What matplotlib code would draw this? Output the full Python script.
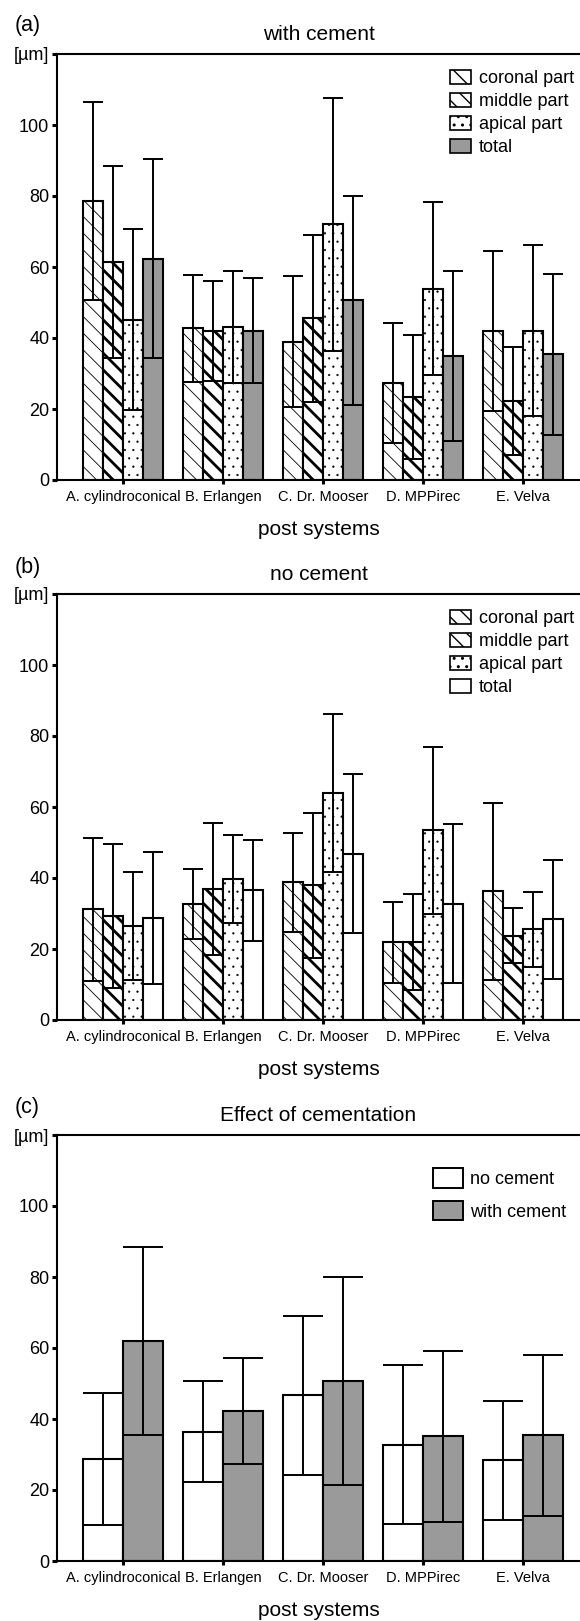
import numpy as np
import matplotlib
matplotlib.use('Agg')
import matplotlib.pyplot as plt
from matplotlib.patches import Patch

plt.rcParams['font.family'] = ['Liberation Sans', 'DejaVu Sans']

systems = ['A. cylindroconical', 'B. Erlangen', 'C. Dr. Mooser', 'D. MPPirec', 'E. Velva']
parts = ['coronal part', 'middle part', 'apical part', 'total']

# (a) with cement: mean and SD
cem_coronal = [78.6, 42.7, 39.0, 27.3, 41.9]
cem_coronal_sd = [28.0, 15.0, 18.5, 16.9, 22.6]
cem_middle = [61.5, 42.0, 45.6, 23.3, 22.3]
cem_middle_sd = [27.0, 14.0, 23.5, 17.5, 15.2]
cem_apical = [45.2, 43.2, 72.0, 53.9, 42.1]
cem_apical_sd = [25.5, 15.8, 35.6, 24.4, 24.0]
cem_total = [62.3, 42.1, 50.6, 35.0, 35.4]
cem_total_sd = [28.0, 14.9, 29.4, 24.0, 22.7]

# (b) no cement: mean and SD
nocem_coronal = [31.2, 32.7, 38.8, 21.9, 36.2]
nocem_coronal_sd = [20.2, 9.8, 13.9, 11.4, 24.8]
nocem_middle = [29.3, 36.9, 38.0, 21.9, 23.8]
nocem_middle_sd = [20.3, 18.5, 20.4, 13.5, 7.7]
nocem_apical = [26.5, 39.8, 64.0, 53.5, 25.5]
nocem_apical_sd = [15.3, 12.4, 22.2, 23.5, 10.5]
nocem_total = [28.8, 36.5, 46.8, 32.8, 28.4]
nocem_total_sd = [18.6, 14.2, 22.4, 22.5, 16.8]

# (c) effect of cementation
eff_no = [28.8, 36.4, 46.7, 32.8, 28.4]
eff_no_sd = [18.6, 14.2, 22.4, 22.4, 16.8]
eff_with = [62.0, 42.3, 50.8, 35.1, 35.4]
eff_with_sd = [26.5, 14.9, 29.3, 24.0, 22.7]

yticks = [0, 20, 40, 60, 80, 100, 120]
yticklabels = ['0', '20', '40', '60', '80', '100', '[µm]']

W, H = 580, 1621
fig = plt.figure(figsize=(W / 100, H / 100), dpi=100)
GRAY = '#9a9a9a'


def make_axes(y_zero, y_top):
    return fig.add_axes([57 / W, 1 - y_zero / H, 523 / W, (y_zero - y_top) / H])


def style_patch(p, hatch, hlw):
    if hatch:
        p.set_hatch(hatch)
        if hasattr(p, 'set_hatch_linewidth'):
            p.set_hatch_linewidth(hlw)


def setup(ax, letter, title, y_letter):
    ax.set_xlim(-0.66, 4.57)
    ax.set_ylim(0, 120)
    ax.spines['right'].set_visible(False)
    for s in ['left', 'top', 'bottom']:
        ax.spines[s].set_linewidth(1.5)
    ax.set_yticks(yticks)
    ax.set_yticklabels(yticklabels)
    ax.set_xticks(range(len(systems)))
    ax.set_xticklabels(systems, fontsize=10.5)
    ax.tick_params(axis='y', direction='out', length=3.5, width=2.2, labelsize=13, pad=2)
    ax.tick_params(axis='x', direction='out', length=3, width=2.2, pad=4)
    ax.set_title(title, fontsize=15, pad=10)
    ax.set_xlabel('post systems', fontsize=15, labelpad=12)
    fig.text(15 / W, 1 - y_letter / H, letter, fontsize=15.5, va='center')


def bars(ax, x, means, sds, width, face, hatch, hlw):
    x = np.asarray(x, dtype=float)
    bc = ax.bar(x, means, width=width, color=face, edgecolor='black', linewidth=1.5, zorder=2)
    for p in bc:
        style_patch(p, hatch, hlw)
    ax.errorbar(x, means, yerr=sds, fmt='none', ecolor='black', elinewidth=1.4,
                capsize=width * 100 * 0.36, capthick=1.4, zorder=3)


def part_panel(ax, data, total_face):
    styles = [('white', '\\\\', 0.6), ('white', '\\\\', 2.0), ('white', '..', 0.35), (total_face, None, 0)]
    offs = [-0.3, -0.1, 0.1, 0.3]
    handles = []
    for (m, s), (face, hatch, hlw), off, lab in zip(data, styles, offs, parts):
        bars(ax, np.arange(5) + off, m, s, 0.2, face, hatch, hlw)
        h = Patch(facecolor=face, edgecolor='black', linewidth=1.2, label=lab)
        style_patch(h, hatch, hlw)
        handles.append(h)
    ax.legend(handles=handles, loc='upper left', bbox_to_anchor=(0.7514, 0.962),
              frameon=False, fontsize=13, borderpad=0, borderaxespad=0,
              handlelength=1.17, handleheight=0.8, handletextpad=0.45, labelspacing=0.32)


# (a)
ax1 = make_axes(480, 54)
part_panel(ax1, [(cem_coronal, cem_coronal_sd), (cem_middle, cem_middle_sd),
                 (cem_apical, cem_apical_sd), (cem_total, cem_total_sd)], GRAY)
setup(ax1, '(a)', 'with cement', 25)

# (b)
ax2 = make_axes(1020, 594)
part_panel(ax2, [(nocem_coronal, nocem_coronal_sd), (nocem_middle, nocem_middle_sd),
                 (nocem_apical, nocem_apical_sd), (nocem_total, nocem_total_sd)], 'white')
setup(ax2, '(b)', 'no cement', 567)

# (c)
ax3 = make_axes(1561, 1135)
bars(ax3, np.arange(5) - 0.2, eff_no, eff_no_sd, 0.4, 'white', None, 0)
bars(ax3, np.arange(5) + 0.2, eff_with, eff_with_sd, 0.4, GRAY, None, 0)
hc = [Patch(facecolor='white', edgecolor='black', linewidth=1.4, label='no cement'),
      Patch(facecolor=GRAY, edgecolor='black', linewidth=1.4, label='with cement')]
ax3.legend(handles=hc, loc='upper left', bbox_to_anchor=((433 - 57) / 523, 0.922),
           frameon=False, fontsize=13, borderpad=0, borderaxespad=0,
           handlelength=1.67, handleheight=1.28, handletextpad=0.4, labelspacing=0.72)
setup(ax3, '(c)', 'Effect of cementation', 1108)

fig.savefig('out.png', dpi=100)
